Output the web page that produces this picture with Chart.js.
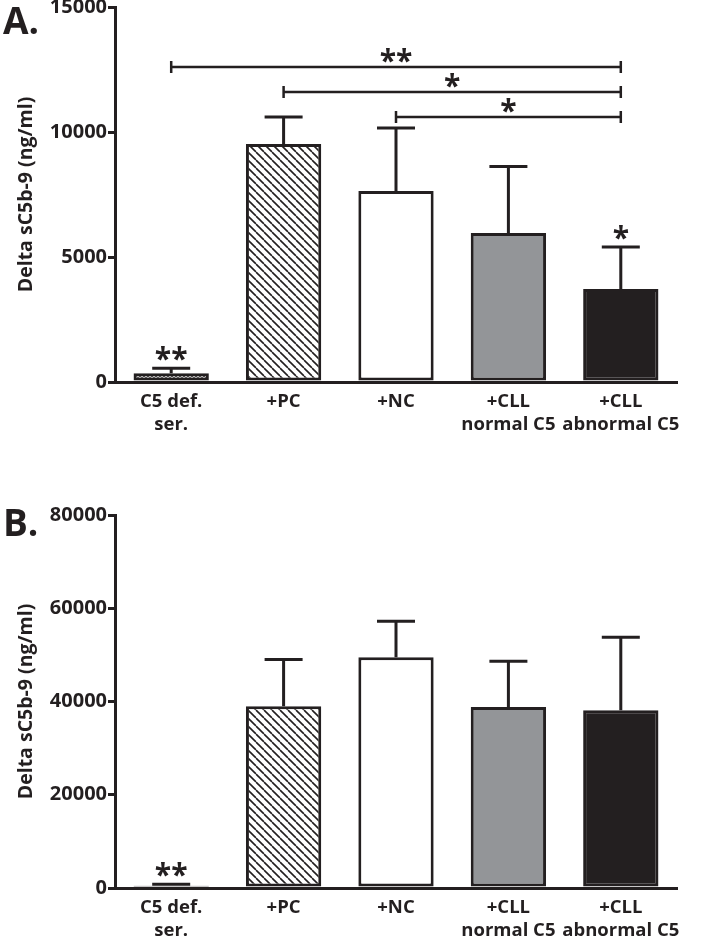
<!DOCTYPE html>
<html>
<head>
<meta charset="utf-8">
<script src="https://cdn.jsdelivr.net/npm/chart.js@4.4.1/dist/chart.umd.min.js"></script>
<style>
  body { margin: 0; background: #fff; }
  #wrap { position: relative; width: 710px; height: 940px; }
  .panel { position: absolute; left: 0; width: 710px; height: 470px; }
  #panelA { top: 0; }
  #panelB { top: 470px; }
</style>
</head>
<body>
<div id="wrap">
  <div class="panel" id="panelA"><canvas id="chartA"></canvas></div>
  <div class="panel" id="panelB"><canvas id="chartB"></canvas></div>
</div>
<script>
// Categories (x axis)
const groups = [['C5 def.', 'ser.'], '+PC', '+NC', ['+CLL', 'normal C5'], ['+CLL', 'abnormal C5']];

// Panel A values (ng/ml) and upper error (SD)
const valuesA = [350, 9520, 7640, 5960, 3720];
const errorsA = [200, 1080, 2520, 2660, 1680];
const starsA = ['**', '', '', '', '*'];
const ticksA = [0, 5000, 10000, 15000];

// Panel A significance brackets: from group, to group, height, label
const bracketFrom = [0, 1, 2];
const bracketTo = [4, 4, 4];
const bracketY = [12600, 11600, 10600];
const bracketLabel = ['**', '*', '*'];

// Panel B values
const valuesB = [500, 39000, 49500, 38800, 38150];
const errorsB = [300, 10000, 7700, 9850, 15650];
const starsB = ['**', '', '', '', ''];
const ticksB = [0, 20000, 40000, 60000, 80000];

const INK = '#231f20';
Chart.defaults.font.family = '"Open Sans", sans-serif';
Chart.defaults.font.weight = 'bold';
Chart.defaults.color = INK;

// Function to build a diagonal hatch pattern
function hatchPattern(size, both) {
    const c = document.createElement('canvas');
    c.width = size;
    c.height = size;
    const g = c.getContext('2d');
    g.fillStyle = '#fff';
    g.fillRect(0, 0, size, size);
    g.strokeStyle = INK;
    g.lineWidth = both ? 1.2 : 1.6;
    for (const k of [-size, 0, size]) {
        g.beginPath();
        g.moveTo(k, 0);
        g.lineTo(k + size, size);
        g.stroke();
        if (both) {
            g.beginPath();
            g.moveTo(k + size, 0);
            g.lineTo(k, size);
            g.stroke();
        }
    }
    return g.createPattern(c, 'repeat');
}

const fills = [hatchPattern(4, true), hatchPattern(8, false), '#ffffff', '#939598', INK];

// Plugin: error bars, stars, brackets and panel letter
const extrasPlugin = {
    id: 'extras',
    afterDatasetsDraw(chart, args, opts) {
        const ctx = chart.ctx;
        const meta = chart.getDatasetMeta(0);
        const y = chart.scales.y;
        const x = chart.scales.x;
        ctx.save();
        ctx.strokeStyle = INK;
        ctx.fillStyle = INK;
        ctx.lineWidth = 3;
        ctx.lineCap = 'butt';
        opts.values.forEach((v, i) => {
            const bx = meta.data[i].x;
            const top = y.getPixelForValue(v + opts.errors[i]);
            ctx.beginPath();
            ctx.moveTo(bx, meta.data[i].y);
            ctx.lineTo(bx, top);
            ctx.moveTo(bx - 19, top);
            ctx.lineTo(bx + 19, top);
            ctx.stroke();
            if (opts.stars[i]) {
                ctx.font = 'bold 30px "Open Sans"';
                ctx.textAlign = 'center';
                ctx.textBaseline = 'alphabetic';
                ctx.fillText(opts.stars[i], bx, top + 1);
            }
        });
        (opts.brackets || []).forEach(b => {
            const x1 = x.getPixelForValue(b.from);
            const x2 = x.getPixelForValue(b.to);
            const by = y.getPixelForValue(b.y);
            ctx.lineWidth = 2.5;
            ctx.beginPath();
            ctx.moveTo(x1, by);
            ctx.lineTo(x2, by);
            ctx.moveTo(x1, by - 6);
            ctx.lineTo(x1, by + 6);
            ctx.moveTo(x2, by - 6);
            ctx.lineTo(x2, by + 6);
            ctx.stroke();
            ctx.font = 'bold 30px "Open Sans"';
            ctx.textAlign = 'center';
            ctx.textBaseline = 'alphabetic';
            ctx.fillText(b.label, (x1 + x2) / 2, by + 4);
        });
        ctx.font = 'bold 37px "Open Sans"';
        ctx.textAlign = 'left';
        ctx.textBaseline = 'alphabetic';
        ctx.fillText(opts.letter, 3, opts.letterY);
        ctx.restore();
    }
};

function makeChart(id, values, errors, stars, ticks, opts) {
    const maxV = ticks[ticks.length - 1];
    const step = ticks[1] - ticks[0];
    return new Chart(document.getElementById(id), {
        type: 'bar',
        data: {
            labels: groups,
            datasets: [{
                data: values,
                backgroundColor: fills,
                borderColor: INK,
                borderWidth: 3,
                borderSkipped: false,
                barPercentage: 0.67,
                categoryPercentage: 1
            }]
        },
        options: {
            responsive: true,
            maintainAspectRatio: false,
            animation: false,
            events: [],
            layout: { padding: { left: 0, right: 33, top: opts.top, bottom: 0 } },
            plugins: {
                legend: { display: false },
                tooltip: { enabled: false },
                extras: {
                    values: values, errors: errors, stars: stars,
                    brackets: opts.brackets, letter: opts.letter, letterY: opts.letterY
                }
            },
            scales: {
                x: {
                    grid: { display: false },
                    border: { display: true, color: INK, width: 3 },
                    ticks: { font: { size: 18.5, weight: 'bold', lineHeight: 1.2 }, color: INK, padding: 1, maxRotation: 0, autoSkip: false },
                    afterFit(s) { s.height = opts.xHeight; s.paddingLeft = 0; s.paddingRight = 0; }
                },
                y: {
                    min: 0,
                    max: maxV,
                    grid: { drawOnChartArea: false, drawTicks: true, tickLength: 7, color: INK, lineWidth: 3 },
                    border: { display: true, color: INK, width: 3 },
                    ticks: {
                        stepSize: step,
                        font: { size: 20, weight: 'bold' },
                        color: INK,
                        padding: 1,
                        callback: v => String(v)
                    },
                    title: {
                        display: true,
                        text: 'Delta sC5b-9 (ng/ml)',
                        font: { size: 19.5, weight: 'bold' },
                        color: INK,
                        padding: { top: 15, bottom: 0 }
                    },
                    afterFit(s) { s.width = 115; s.paddingTop = 0; s.paddingBottom = 0; }
                }
            }
        },
        plugins: [extrasPlugin]
    });
}

const bracketsA = bracketFrom.map((f, i) => ({ from: f, to: bracketTo[i], y: bracketY[i], label: bracketLabel[i] }));

makeChart('chartA', valuesA, errorsA, starsA, ticksA, { top: 7, xHeight: 88, brackets: bracketsA, letter: 'A.', letterY: 34 });
makeChart('chartB', valuesB, errorsB, starsB, ticksB, { top: 45, xHeight: 52, brackets: [], letter: 'B.', letterY: 66 });
</script>
</body>
</html>
